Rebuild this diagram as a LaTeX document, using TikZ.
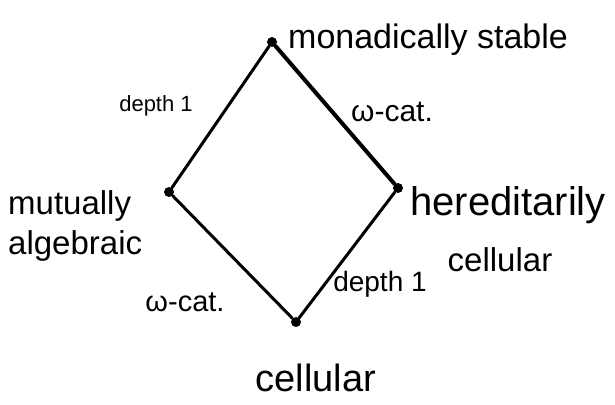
\documentclass[tikz,border=0pt]{standalone}
\usepackage{fontspec}
\setmainfont{Liberation Sans}
\begin{document}
\begin{tikzpicture}[x=1pt,y=-1pt,
  vtx/.style={circle,fill=black,inner sep=0pt,minimum size=10pt},
  edge/.style={line width=3pt,line cap=round},
  fs/.style={font=\fontsize{#1}{#1*1.2}\selectfont,inner sep=0pt}]
\useasboundingbox (0,0) rectangle (615,404);
\node[vtx] (ms) at (272,42) {};
\node[vtx] (ma) at (169,192) {};
\node[vtx] (hc) at (398,188) {};
\node[vtx] (ce) at (296,322) {};
\draw[edge] (ms) -- (ma);
\draw[edge,line width=4pt] (ms) -- (hc);
\draw[edge] (ma) -- (ce);
\draw[edge] (hc) -- (ce);
\node[font=\fontsize{34}{40}\selectfont,inner sep=0pt,anchor=west] (tms) at (288,40) {monadically stable};
\node[font=\fontsize{22}{26}\selectfont,inner sep=0pt] (d1) at (156,106) {depth 1};
\node[font=\fontsize{30}{36}\selectfont,inner sep=0pt] (w1) at (392,112) {ω-cat.};
\node[font=\fontsize{33}{40}\selectfont,inner sep=0pt,align=left,anchor=west] (tma) at (8,226) {mutually\\algebraic};
\node[font=\fontsize{40}{48}\selectfont,inner sep=0pt,anchor=west] (thc) at (410,205) {hereditarily};
\node[font=\fontsize{33}{40}\selectfont,inner sep=0pt] (thc2) at (500,260) {cellular};
\node[font=\fontsize{29}{35}\selectfont,inner sep=0pt] (w2) at (185,302) {ω-cat.};
\node[font=\fontsize{28}{34}\selectfont,inner sep=0pt] (d2) at (380,284) {depth 1};
\node[font=\fontsize{38}{46}\selectfont,inner sep=0pt] (tce) at (316,378) {cellular};
\end{tikzpicture}
\end{document}
